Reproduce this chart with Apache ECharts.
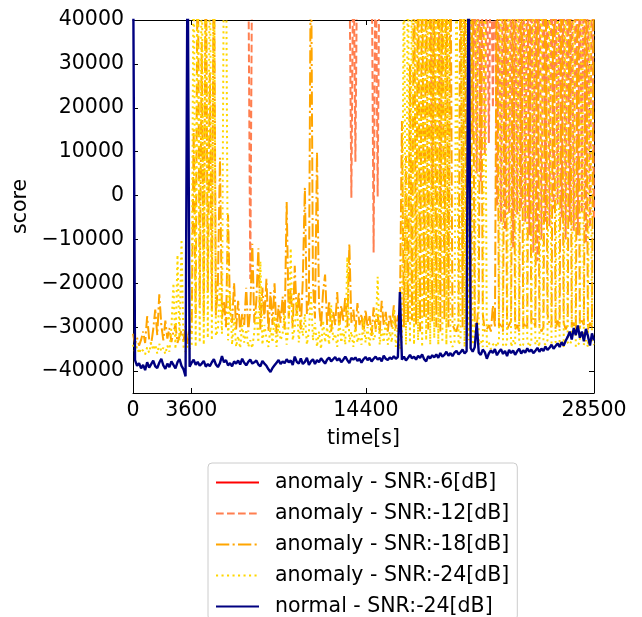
<!DOCTYPE html>
<html>
<head>
<meta charset="utf-8">
<script src="https://cdn.jsdelivr.net/npm/echarts@6/dist/echarts.min.js"></script>
<style>
  html, body { margin: 0; padding: 0; background: #fff; }
  #chart { width: 642px; height: 617px; }
</style>
</head>
<body>
<div id="chart"></div>
<script>
// time step between samples [s]
var step = 125;
var redStep = 250;

// anomaly -6dB: whole trace sits above the plotted range
var snr6 = [
  71000, 68000, 74000, 69000, 72000, 70000, 75000, 67000, 73000, 71000,
  69000, 74000, 72000, 70000, 76000, 68000, 73000, 71000, 69000, 75000,
  72000, 70000, 74000, 68000, 73000, 71000, 69000, 75000, 72000, 70000,
  74000, 68000, 73000, 71000, 69000, 75000, 72000, 70000, 74000, 68000,
  73000, 71000, 69000, 75000, 72000, 70000, 74000, 68000, 73000, 71000,
  69000, 75000, 72000, 70000, 74000, 68000, 73000, 71000, 69000, 75000,
  72000, 70000, 74000, 68000, 73000, 71000, 69000, 75000, 72000, 70000,
  74000, 68000, 73000, 71000, 69000, 75000, 72000, 70000, 74000, 68000,
  73000, 71000, 69000, 75000, 72000, 70000, 74000, 68000, 73000, 71000,
  69000, 75000, 72000, 70000, 74000, 68000, 73000, 71000, 69000, 75000,
  72000, 70000, 74000, 68000, 73000, 71000, 69000, 75000, 72000, 70000,
  74000, 68000, 73000, 71000, 69000
];

// anomaly -12dB: mostly above range, dips into view
var snr12 = [
  61000, 58000, 63000, 57000, 62000, 59000, 64000, 56000, 61000, 60000,
  58000, 63000, 57000, 62000, 59000, 64000, 56000, 61000, 60000, 58000,
  63000, 57000, 62000, 59000, 64000, 56000, 61000, 60000, 58000, 63000,
  57000, 62000, 59000, 64000, 56000, 61000, 60000, 58000, 63000, 57000,
  62000, 59000, 64000, 56000, 61000, 60000, 58000, 63000, 57000, 62000,
  59000, 64000, 56000, 61000, 60000, 58000, 63000, 57000, -19000, 62000,
  59000, 64000, 56000, 61000, 60000, 58000, 63000, 57000, 62000, 59000,
  64000, 56000, 61000, 60000, 58000, 63000, 57000, 62000, 59000, 64000,
  56000, 61000, 60000, 58000, 63000, 57000, 62000, 59000, 64000, 56000,
  61000, 60000, 58000, 63000, 57000, 62000, 59000, 64000, 56000, 61000,
  60000, 58000, 63000, 57000, 62000, 59000, 64000, 56000, -500, 60000,
  7700, 63000, 57000, 62000, 59000, 64000, 56000, 61000, 60000, -13000,
  63000, -200, 62000, 59000, 64000, 56000, 61000, 60000, 58000, 63000,
  57000, 62000, 59000, 64000, 56000, 61000, 60000, 58000, 63000, 57000,
  62000, 59000, 64000, 56000, 61000, 60000, 58000, 63000, 1800, 62000,
  59000, 64000, -1400, 61000, 60000, 58000, 63000, 57000, 62000, 59000,
  64000, 56000, 61000, 60000, 58000, 63000, 57000, 62000, 13000, 61000,
  5000, 60000, 3000, 58000, 9300, 57000, 12000, 62000, 20000, 64000,
  -2500, 56000, -6000, 63000, -8000, 62000, -4000, 59000, -11800, 56000,
  -4300, 58000, -3000, 63000, -6000, 59000, -9000, 64000, -13000, 61000,
  -15000, 63000, -10000, 62000, -6000, 64000, -7000, 61000, -3000, 60000,
  -2000, 57000, -5000, 59000, -10000, 56000, -6000, 60000, -8000, 63000,
  -9000, 62000, -4000, 64000, -11000, 56000, -7300, 60000, -5000
];

// anomaly -18dB
var snr18 = [
  -31500, -33800, -32400, -34200, -32900, -31000, -33600, -27500, -32800, -33900,
  -30500, -26000, -31800, -22500, -29500, -33000, -28500, -32600, -30200, -33400,
  -31000, -29500, -33600, -32000, -30800, -33200, -29800, -33800, -30500, -31500,
  15000, -27000, 62000, -25000, 35000, -28000, 62000, -22000, 28000, -26000,
  62000, -27500, -20000, 8600, -28000, -24000, -30000, -4300, -26500, -29000,
  -20000, -30500, -24000, -31000, -27000, -29500, -21000, -31000, -26000, -11000,
  -29000, -24000, -12000, -30500, -21000, -28000, -19000, -31000, -22000, -29500,
  -20000, -31500, -25000, -29000, -23000, -30500, -1500, -28000, -21000, -30000,
  -16000, -27500, -22000, -30500, -19000, 1800, -27000, -24000, 62000, -20000,
  -28000, 10000, -25000, -30000, -22000, -18000, -29500, -24000, -31000, -26500,
  -29500, -22000, -30500, -25000, -28500, -23000, -30000, -11000, -29000, -26000,
  -31000, -24500, -29500, -27000, -31500, -26000, -30000, -27500, -32000, -25500,
  -30500, -27000, -31500, -24000, -29500, -26500, -31000, -27000, -30000, -25000,
  -30500, -27500, -27000, 17000, -30000, 9000, -29000, 30000, -28500, 62000,
  -29500, 62000, -31000, 62000, -28000, 62000, -30500, 62000, -29000, 62000,
  -30000, 62000, -31000, 62000, -28500, 62000, -30000, 62000, -29500, -30500,
  -31000, -29000, 62000, -30000, 62000, -28500, 62000, -30500, 62000, -29000,
  -30000, -24000, 62000, -27000, -31000, -30500, -29500, -31000, -25000, -30000,
  62000, -30000, -29000, -31000, 62000, -30500, -29500, -28500, 62000, -30500,
  -29500, -31000, 62000, -30000, -29000, -30500, 62000, -29000, -28000, -30000,
  62000, -29500, -31000, -30000, 62000, -27000, -29500, -30000, 62000, -30500,
  -28500, -30000, 62000, -29000, -30500, -29500, 62000, -30000, -29000, -31000,
  62000, -30000, -28500, -29500, 62000, -30500, -29000, -30000, 62000
];

// anomaly -24dB
var snr24 = [
  -34000, -35600, -34400, -36000, -34800, -35400, -36200, -34600, -35800, -33500,
  -35200, -34000, -36000, -33800, -35500, -34700, -36100, -34200, -35600, -30000,
  -20000, -35000, -13500, -33000, -10000, -34500, -35600, -34200, -35000, -34000,
  62000, -34500, 62000, -33500, 62000, -34000, 62000, -32500, 62000, -33000,
  62000, -32000, -30500, -20000, -31500, 62000, 62000, -33000, -22000, -34000,
  -28000, -34500, -32000, -34800, -29500, -33500, -30500, -34500, -33000, -34800,
  -31000, -26000, -33500, -15000, -34000, -29500, -32500, -34500, -30000, -33500,
  -27500, -34500, -29000, -33000, -31500, -27000, -34000, -29500, -12000, -33000,
  -30000, -24000, -33500, -28000, -32000, -27000, -34000, -31000, -22000, -33000,
  -29000, -34500, -31000, -35000, -28500, -33500, -30000, -34000, -25000, -33000,
  -31500, -34500, -28000, -33500, -30500, -34000, -14000, -33500, -31000, -34500,
  -29500, -33500, -31500, -34000, -28000, -33500, -30000, -34500, -29000, -33000,
  -31500, -18500, -34000, -30500, -33500, -28500, -34000, -31000, -33500, -26000,
  -34500, -30000, -35000, -33000, 62000, -34000, 62000, -33500, 62000, -34000,
  62000, -33000, 62000, -34500, 62000, -33000, 62000, -34000, 62000, -32500,
  62000, -34000, 62000, -33500, 62000, -34000, 62000, -33000, -34500, -33500,
  62000, -34000, -33000, 62000, -34500, 62000, -33000, 62000, -34000, -33500,
  62000, -34000, -33000, -34500, 62000, -34500, -33500, -35000, -34000, -33500,
  -34500, -33000, 62000, -34000, -34500, -33500, 62000, -34500, -33000, -34000,
  62000, -33500, -34500, -34000, 62000, -33000, -34500, -33500, 62000, -34000,
  -33000, -34500, 62000, -33500, -34000, -33000, 62000, -34500, -34000, -33500,
  62000, -34000, -33000, -34500, 62000, -33500, -34000, -33000, 62000, -34500,
  -34000, -33500, 62000, -34000, -33000, -34500, 62000, -33500, -34000
];

// normal -24dB
var normal24 = [
  60000, -37500, -38800, -38200, -39400, -38600, -39800, -38000, -39200, -38400,
  -37600, -38900, -39300, -38100, -37200, -38700, -39500, -38300, -39100, -37800,
  -38600, -39400, -38000, -37300, -38800, -39600, -41200, 60000, -39000, -38100,
  -37400, -38600, -37900, -38800, -38300, -37700, -39000, -38400, -38900, -38000,
  -37300, -38500, -39100, -38200, -36600, -38000, -37500, -38700, -38200, -38900,
  -37800, -38300, -37600, -38500, -37200, -38100, -38700, -37900, -37400, -38300,
  -38000, -37600, -38500, -38900, -37700, -38300, -38800, -39600, -40200, -39300,
  -38700, -38100, -37500, -38400, -37800, -38200, -37300, -38000, -37600, -38600,
  -36700, -37900, -38300, -37100, -38400, -37900, -37000, -38600, -37800, -37300,
  -38400, -37500, -38000, -37100, -37700, -38300, -37400, -36900, -37800, -37300,
  -36800, -37600, -37100, -38000, -37400, -36700, -37500, -38200, -37000, -37400,
  -36900, -37700, -37200, -38100, -37300, -36800, -37500, -37000, -37800, -37200,
  -36700, -37400, -37000, -37800, -36500, -37200, -37500, -36900, -37300, -36600,
  -37200, -36800, -22000, -37400, -36700, -37600, -37000, -36300, -37100, -36700,
  -37400, -36500, -37000, -36200, -37300, -37800, -36600, -37100, -36400, -36900,
  -36200, -37000, -35900, -36700, -36300, -35600, -36500, -35900, -36600, -35800,
  -35400, -36200, -35700, -35100, -36000, -35500, 60000, -34800, -35600, -34600,
  -29000, -35800, -36300, -35100, -35700, -37200, -36000, -35300, -35900, -35000,
  -36400, -35600, -35000, -36100, -35400, -36600, -35200, -35900, -35300, -36300,
  -35500, -34900, -36000, -35300, -35800, -34800, -35600, -35100, -35900, -35400,
  -34700, -35600, -34900, -35400, -34400, -35200, -34700, -34000, -34900, -34300,
  -33700, -34500, -33400, -34200, -33100, -32200, -31000, -32800, -30200, -31800,
  -29600, -32400, -31000, -33200, -30400, -32000, -34200, -31400, -33000
];

var xTicks = [0, 3600, 14400, 28500];
var yTicks = [-40000, -30000, -20000, -10000, 0, 10000, 20000, 30000, 40000];

var names = [
  'anomaly - SNR:-6[dB]',
  'anomaly - SNR:-12[dB]',
  'anomaly - SNR:-18[dB]',
  'anomaly - SNR:-24[dB]',
  'normal - SNR:-24[dB]'
];
var colors = ['#ff0000', '#ff7f50', '#ffa500', '#ffd700', '#000080'];
var dashes = ['solid', [7.7, 3.3], [13.3, 3.3, 2.1, 3.3], [2.1, 3.4], 'solid'];
var widths = [2, 2, 2, 2, 2.4];

function pairs(vals, dt) {
  return vals.map(function (v, i) { return [i * dt, v]; });
}

var font = 'DejaVu Sans';
var fs = 20.5;

function mirrorX(pos) {
  return {
    type: 'value', position: pos, min: 0, max: 28500,
    axisLine: { show: true, onZero: false, lineStyle: { color: '#000', width: 1 } },
    axisTick: { show: true, inside: true, length: 5, customValues: xTicks, lineStyle: { color: '#000' } },
    axisLabel: {
      show: pos === 'bottom', customValues: xTicks, color: '#000', fontFamily: font, fontSize: fs, margin: 7,
      formatter: function (v) { return String(v); }
    },
    splitLine: { show: false }
  };
}
function mirrorY(pos) {
  return {
    type: 'value', position: pos, min: -45000, max: 40000,
    axisLine: { show: true, onZero: false, lineStyle: { color: '#000', width: 1 } },
    axisTick: { show: true, inside: true, length: 5, customValues: yTicks, lineStyle: { color: '#000' } },
    axisLabel: {
      show: pos === 'left', customValues: yTicks, color: '#000', fontFamily: font, fontSize: fs, margin: 9,
      formatter: function (v) { return v < 0 ? '\u2212' + Math.abs(v) : String(v); }
    },
    splitLine: { show: false }
  };
}

var xBottom = mirrorX('bottom');
xBottom.name = 'time[s]';
xBottom.nameLocation = 'middle';
xBottom.nameGap = 35;
xBottom.nameTextStyle = { color: '#000', fontFamily: font, fontSize: fs };

var yLeft = mirrorY('left');
yLeft.name = 'score';
yLeft.nameLocation = 'middle';
yLeft.nameGap = 93;
yLeft.nameTextStyle = { color: '#000', fontFamily: font, fontSize: fs };

var allData = [pairs(snr6, redStep), pairs(snr12, step), pairs(snr18, step), pairs(snr24, step), pairs(normal24, step)];

var chart = echarts.init(document.getElementById('chart'));
chart.setOption({
  animation: false,
  backgroundColor: '#fff',
  grid: { left: 133, right: 48, top: 20, bottom: 224 },
  xAxis: [xBottom, mirrorX('top')],
  yAxis: [yLeft, mirrorY('right')],
  legend: {
    orient: 'vertical',
    left: 208,
    top: 463,
    height: 220,
    padding: [9, 8, 3, 7],
    itemWidth: 43,
    itemHeight: 14,
    itemGap: 10,
    borderColor: '#cccccc',
    borderWidth: 1,
    borderRadius: 4,
    backgroundColor: '#fff',
    itemStyle: { opacity: 0 },
    textStyle: { color: '#000', fontFamily: font, fontSize: fs, lineHeight: 20, padding: [0, 0, 0, 11] },
    data: names
  },
  series: allData.map(function (d, k) {
    return {
      name: names[k],
      type: 'line',
      xAxisIndex: 0,
      yAxisIndex: 0,
      data: d,
      symbol: 'none',
      showSymbol: false,
      clip: true,
      lineStyle: { color: colors[k], width: widths[k], type: dashes[k] },
      itemStyle: { color: colors[k] }
    };
  })
});
</script>
</body>
</html>
